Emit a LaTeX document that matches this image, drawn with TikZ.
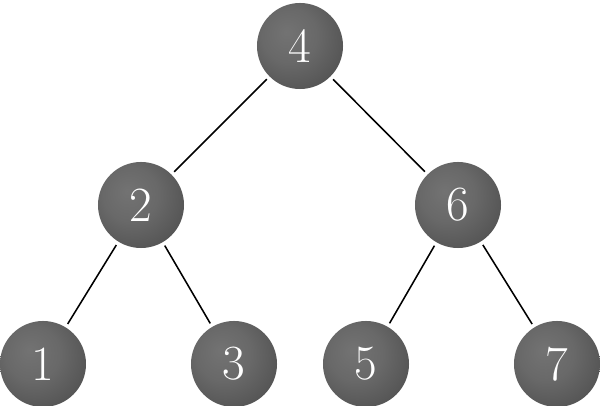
\documentclass[tikz,border=0pt]{standalone}
\usetikzlibrary{shadings}
\pgfdeclareradialshading{myball}{\pgfpoint{-8bp}{8bp}}{%
  color(0bp)=(black!55); color(16bp)=(black!59); color(30bp)=(black!66);
  color(40bp)=(black!76); color(50bp)=(black!92); color(70bp)=(black!97)}
\tikzset{
  treenode/.style={circle, minimum size=2.15cm, inner sep=0pt, outer sep=0.1cm,
    shading=myball, text=white, font=\fontsize{35}{40}\selectfont},
  treeedge/.style={line width=1.1pt, black}
}
\begin{document}
\begin{tikzpicture}[x=0.025cm,y=-0.025cm]
\useasboundingbox (0,0) rectangle (600,406);
\node[treenode] (n4) at (300,46) {4};
\node[treenode] (n2) at (141,205) {2};
\node[treenode] (n6) at (458,205) {6};
\node[treenode] (n1) at (43,364) {1};
\node[treenode] (n3) at (234,364) {3};
\node[treenode] (n5) at (366,364) {5};
\node[treenode] (n7) at (557,364) {7};
\draw[treeedge] (n4) -- (n2);
\draw[treeedge] (n4) -- (n6);
\draw[treeedge] (n2) -- (n1);
\draw[treeedge] (n2) -- (n3);
\draw[treeedge] (n6) -- (n5);
\draw[treeedge] (n6) -- (n7);
\end{tikzpicture}
\end{document}
